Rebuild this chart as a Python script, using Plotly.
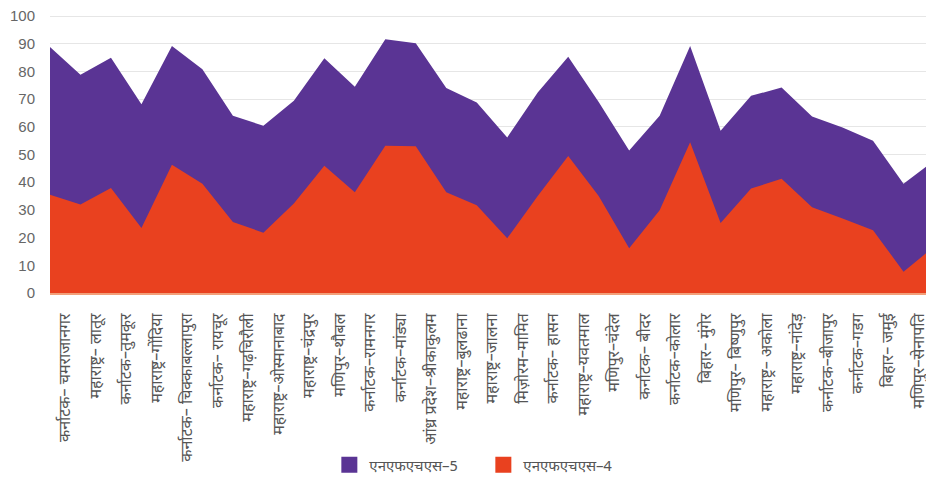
import plotly.graph_objects as go

districts = [
    "कर्नाटक– चमराजानगर", "महाराष्ट्र– लातूर", "कर्नाटक–तुमकूर", "महाराष्ट्र–गोंदिया",
    "कर्नाटक– चिक्काबल्लापुरा", "कर्नाटक– रायचूर", "महाराष्ट्र–गढ़चिरौली",
    "महाराष्ट्र–ओस्मानाबाद", "महाराष्ट्र–चंद्रपुर", "मणिपुर–थौबल", "कर्नाटक–रामनगर",
    "कर्नाटक–मांड्या", "आंध्र प्रदेश–श्रीकाकुलम", "महाराष्ट्र–बुलढाना", "महाराष्ट्र–जालना",
    "मिज़ोरम–मामित", "कर्नाटक– हासन", "महाराष्ट्र–यवतमाल", "मणिपुर–चंदेल",
    "कर्नाटक– बीदर", "कर्नाटक–कोलार", "बिहार– मुंगेर", "मणिपुर– बिष्णुपुर",
    "महाराष्ट्र– अकोला", "महाराष्ट्र–नांदेड़", "कर्नाटक–बीजापुर", "कर्नाटक–गडग",
    "बिहार– जमुई", "मणिपुर–सेनापति",
]

nfhs5 = [88.8, 78.8, 85, 68.2, 89.2, 80.8, 64, 60.4, 69.4, 84.8, 74.5, 91.6, 90.2, 74,
         68.8, 56.2, 72.4, 85.3, 69, 51.5, 64, 89.2, 58.6, 71.2, 74.2, 63.7, 59.8, 55,
         39.5, 47.8]
nfhs4 = [35.5, 32, 37.9, 23.5, 46.3, 39.5, 25.6, 21.8, 32.3, 46, 36.4, 53.2, 53, 36.4,
         31.7, 19.8, 35, 49.5, 35, 16.2, 29.9, 54.4, 25.3, 37.7, 41.3, 31, 26.9, 22.7,
         7.7, 16.7]

y_ticks = list(range(0, 101, 10))
series_names = ["एनएफएचएस–5", "एनएफएचएस–4"]

xs = list(range(len(nfhs5)))
label_pos = [i + 0.5 for i in range(len(districts))]

PURPLE = "#5a3494"
RED = "#e9411f"
DEV_FONT = "Noto Sans Devanagari, Noto Sans, sans-serif"

fig = go.Figure()
fig.add_trace(go.Scatter(x=xs, y=nfhs5, mode="lines", fill="tozeroy",
                         line=dict(color=PURPLE, width=0), fillcolor=PURPLE,
                         showlegend=False, hoverinfo="skip"))
fig.add_trace(go.Scatter(x=xs, y=nfhs4, mode="lines", fill="tozeroy",
                         line=dict(color=RED, width=0), fillcolor=RED,
                         showlegend=False, hoverinfo="skip"))
# legend entries with square swatches
for name, col in zip(series_names, [PURPLE, RED]):
    fig.add_trace(go.Scatter(x=[None], y=[None], mode="markers", name=name,
                             marker=dict(symbol="square", size=22, color=col)))

fig.update_layout(
    width=926, height=475,
    margin=dict(l=42, r=0, t=7, b=190, autoexpand=False),
    paper_bgcolor="white", plot_bgcolor="white",
    font=dict(family=DEV_FONT, color="#555555"),
    showlegend=True,
    legend=dict(orientation="h", x=0.316, xanchor="left",
                yref="container", y=0.038, yanchor="middle",
                font=dict(size=15, color="#555555", family=DEV_FONT),
                itemwidth=30, entrywidth=109, traceorder="normal", itemsizing="trace"),
)
fig.update_xaxes(
    range=[0, len(nfhs5) - 1], tickmode="array", tickvals=label_pos,
    ticktext=districts, tickangle=-90, tickfont=dict(size=16, color="#555555", family=DEV_FONT),
    showgrid=False, showline=True, linecolor="#f2a07a", linewidth=2,
    ticks="", zeroline=False, ticklabelstandoff=12,
)
fig.update_yaxes(
    range=[0, 100.4], tickmode="array", tickvals=y_ticks,
    tickfont=dict(size=15, color="#666666", family="Liberation Sans, sans-serif"),
    showgrid=True, gridcolor="#e6e6e6", gridwidth=1, zeroline=False,
    ticks="", ticklabelstandoff=14, showline=False, ticklabeloverflow="allow",
)

fig.write_html("out.html")
